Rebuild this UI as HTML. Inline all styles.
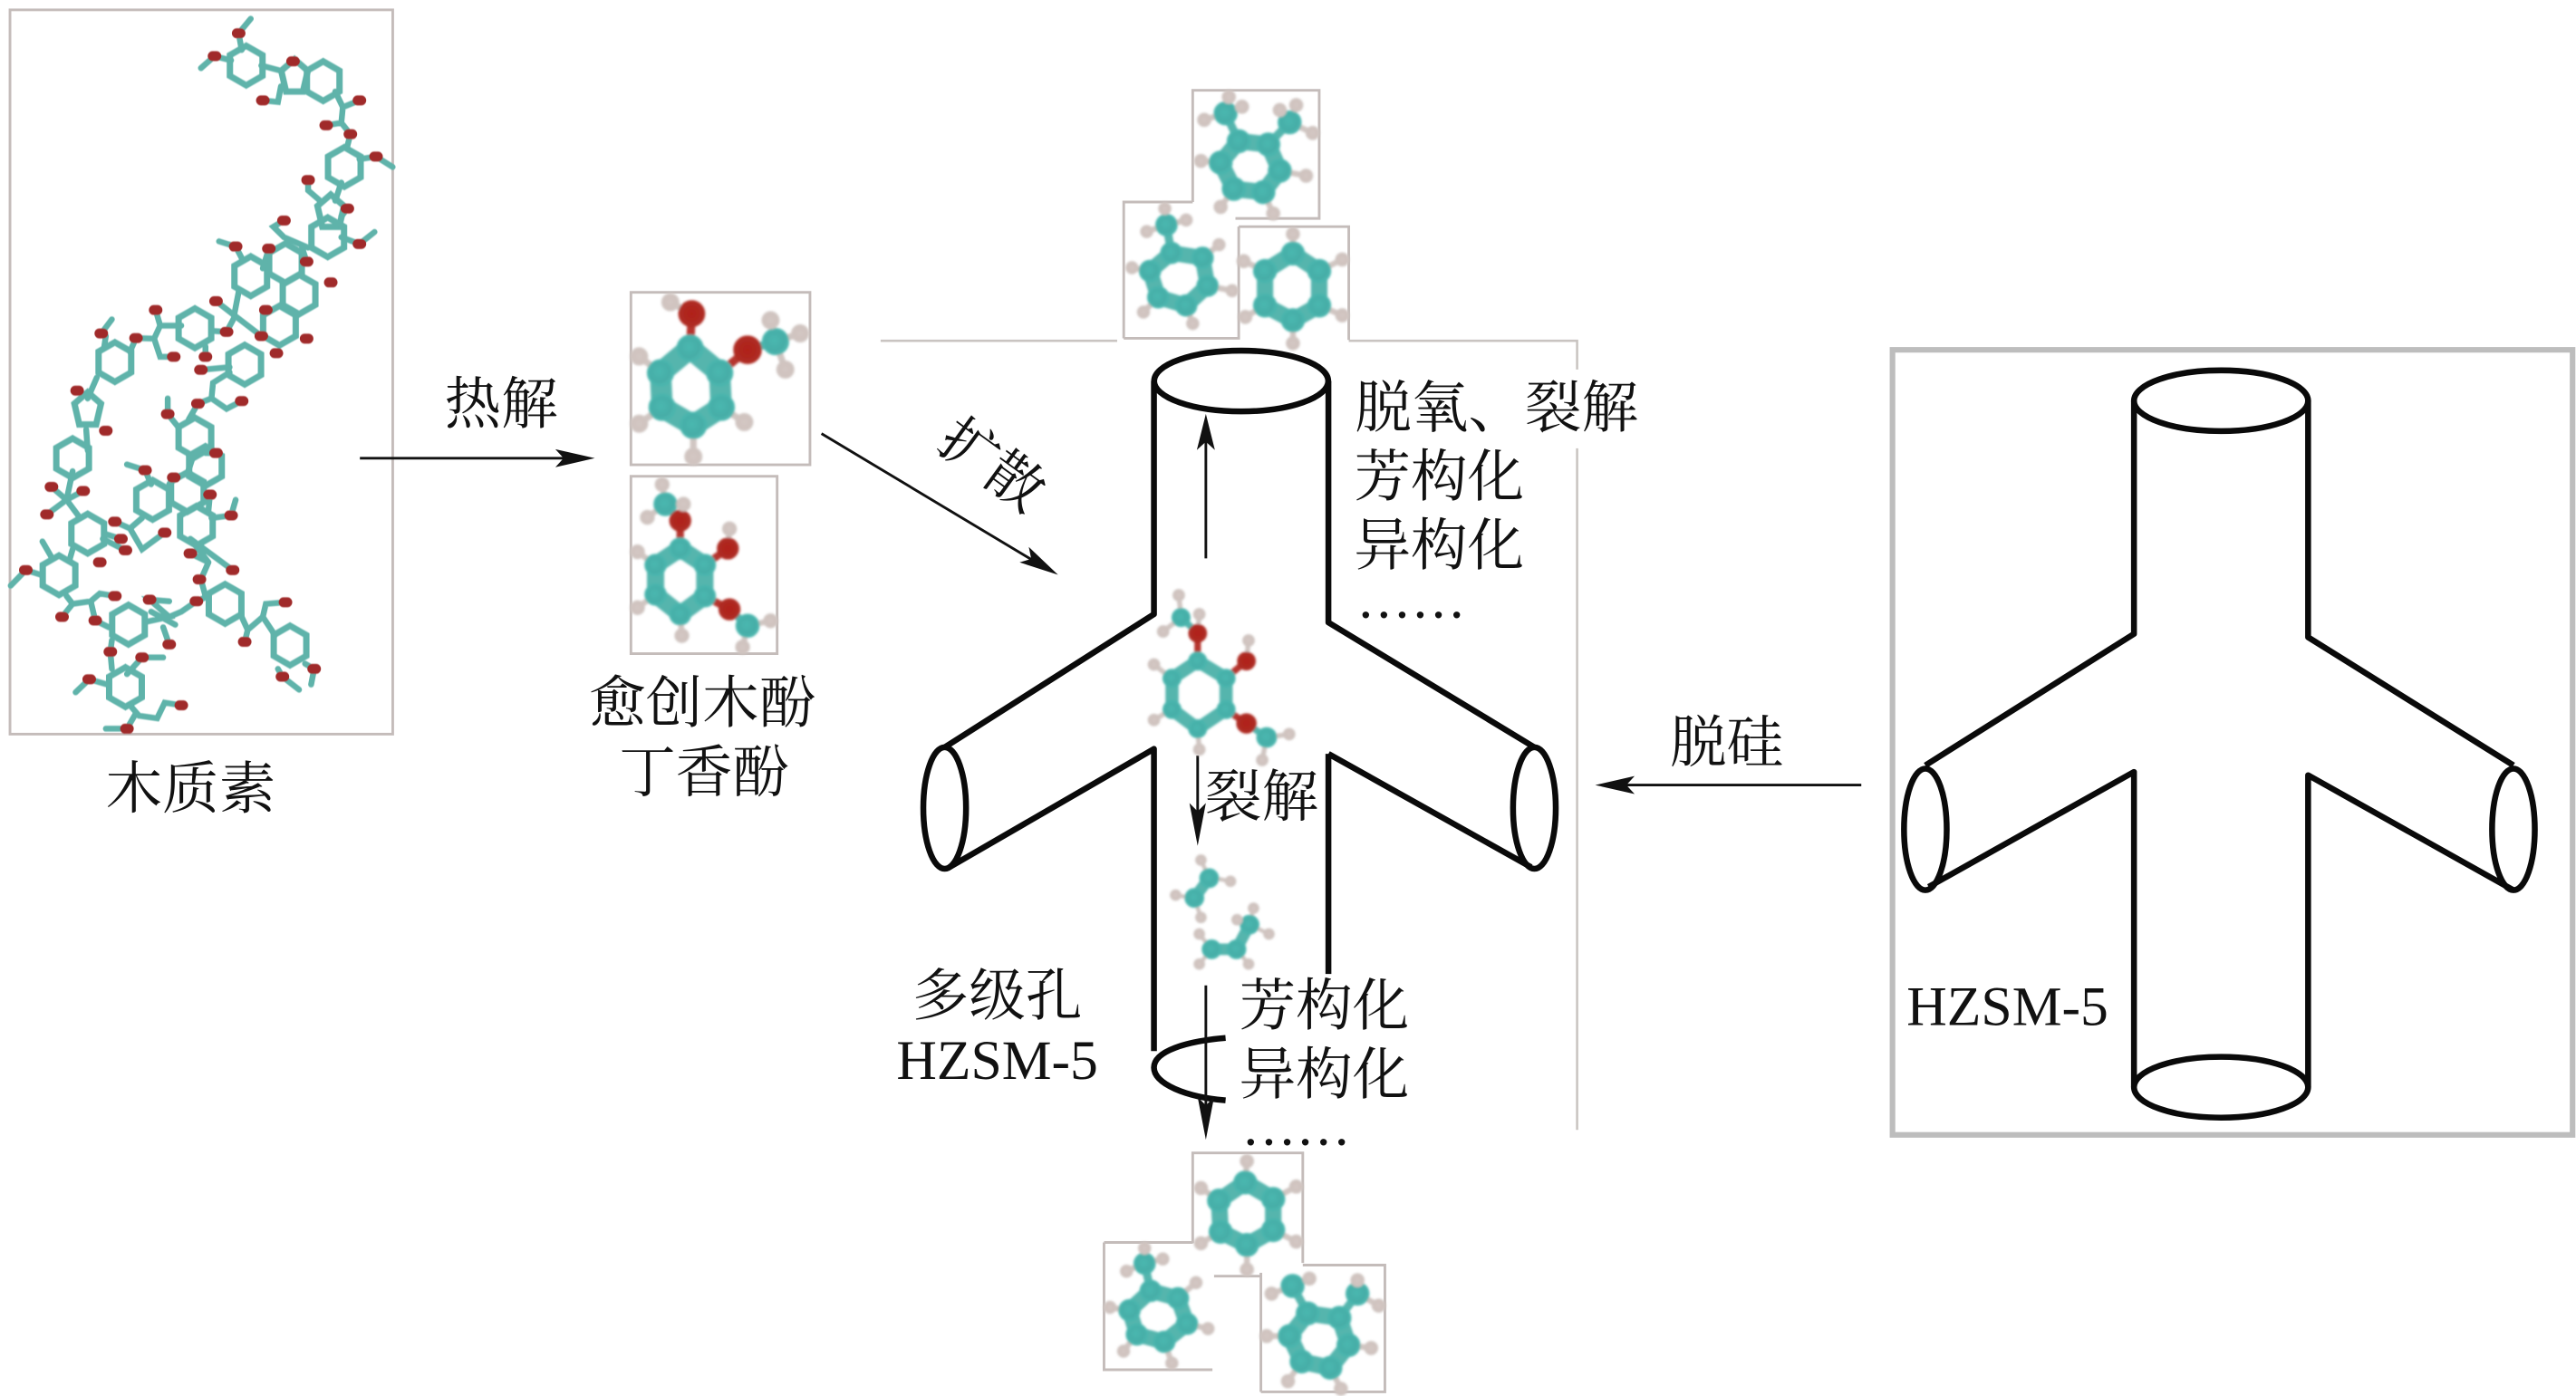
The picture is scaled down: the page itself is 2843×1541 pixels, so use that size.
<!DOCTYPE html>
<html><head><meta charset="utf-8">
<style>
html,body{margin:0;padding:0;background:#fff}
svg{display:block}
.t{font-family:"Liberation Serif","Noto Serif CJK SC",serif;font-size:34.5px;fill:#111;text-anchor:middle}
.w{fill:none;stroke:#0a0a0a;stroke-width:3.6;stroke-linejoin:round}
.a{fill:none;stroke:#111;stroke-width:1.6}
.g{fill:none;stroke:#c9c4c1;stroke-width:1.4}
.b{fill:none;stroke:#c4bcba;stroke-width:1.6}
.C{fill:url(#gc)}.H{fill:url(#gh)}.O{fill:url(#go)}
.C circle{stroke:#4ab5ad;stroke-width:1.6}
.H circle{stroke:#cfc4c0;stroke-width:1}
.O circle{stroke:#ae2a22;stroke-width:1.4}
.r{fill:none;stroke:#55b5ad}
.ro{fill:none;stroke:#b5352d}
</style></head>
<body>
<svg xmlns="http://www.w3.org/2000/svg" width="2843" height="1541" viewBox="0 0 1568 850">
<defs>
<radialGradient id="gc" cx=".45" cy=".45" r=".6"><stop offset="0" stop-color="#4ab8b0"/><stop offset=".75" stop-color="#45aca6"/><stop offset="1" stop-color="#6cc4bc"/></radialGradient>
<radialGradient id="gh" cx=".5" cy=".5" r=".55"><stop offset="0" stop-color="#d4c8c4"/><stop offset=".7" stop-color="#cfc2be"/><stop offset="1" stop-color="#e0d8d6"/></radialGradient>
<radialGradient id="go" cx=".5" cy=".5" r=".55"><stop offset="0" stop-color="#b02018"/><stop offset=".75" stop-color="#ae2a22"/><stop offset="1" stop-color="#c04a44"/></radialGradient>
<filter id="bl" x="-5%" y="-5%" width="110%" height="110%"><feGaussianBlur stdDeviation="0.7"/></filter>
<path id="h" d="M-54,-20L0,-38L54,-20L54,20L0,38L-54,20Z" fill="none" stroke="#5fb3aa" stroke-width="7" vector-effect="non-scaling-stroke"/>
<path id="p" d="M0,-32L44,-10L28,30L-28,30L-44,-10Z" fill="none" stroke="#5fb3aa" stroke-width="7" vector-effect="non-scaling-stroke"/>
</defs>
<rect width="1568" height="850" fill="#fff"/>

<!-- lignin -->
<rect x="6" y="6" width="233" height="441" class="b" fill="none"/>
<g transform="scale(.1838,.3167) translate(0,-4)" filter="url(#bl)">
<use href="#h" x="815" y="130"/><use href="#p" x="975" y="150"/><use href="#h" x="1070" y="160"/><use href="#h" x="1140" y="325"/><use href="#p" x="1095" y="410"/><use href="#h" x="1085" y="460"/><use href="#h" x="830" y="535"/><use href="#h" x="945" y="510"/><use href="#h" x="990" y="570"/><use href="#h" x="925" y="630"/><use href="#h" x="645" y="635"/><use href="#h" x="380" y="700"/><use href="#h" x="810" y="705"/><use href="#p" x="290" y="790"/><use href="#h" x="240" y="885"/><use href="#h" x="645" y="845"/><use href="#h" x="680" y="900"/><use href="#h" x="620" y="950"/><use href="#h" x="505" y="965"/><use href="#h" x="650" y="1015"/><use href="#h" x="290" y="1030"/><use href="#h" x="195" y="1110"/><use href="#h" x="745" y="1165"/><use href="#h" x="425" y="1205"/><use href="#h" x="960" y="1245"/><use href="#h" x="415" y="1325"/>
<path fill="none" stroke="#5fb3aa" stroke-width="6.5" stroke-linecap="round" vector-effect="non-scaling-stroke" d="M665,135L710,112L765,120M790,68L800,100M790,68L830,40M865,130L930,140M930,170L920,200L870,197M1110,180L1135,210L1190,197M1135,210L1130,240L1080,245M1130,240L1160,262L1150,285M1190,310L1245,305L1300,325M1130,355L1110,390M1060,390L1020,370L1020,350M1130,420L1150,405M1130,460L1190,473L1240,450M1020,480L940,460L905,440L940,428M1000,480L1015,507M890,482L870,520M800,500L780,478L725,468M790,565L775,610L715,583M775,610L865,650M750,642L775,615M700,640L750,642M600,630L530,630L515,600M530,630L510,655L450,654L430,680M510,655L530,690L575,690M335,645L370,618M350,650L345,670M320,730L290,770M680,670L680,690M665,715L760,710M760,720L705,740L700,770L655,780L625,810M700,770L750,790L800,775M555,770L555,800L590,825M680,875L715,875M640,880L620,915L575,922L560,935M480,908L420,897M480,908L500,935M695,955L690,985M700,1000L765,995L780,965M285,830L290,870M240,910L220,965L170,940M220,965L275,948M220,965L265,1000M220,965L155,993M340,1040L415,1062M345,1030L400,1040M380,1007L430,1020M430,1020L470,1060L545,1028M430,1020L470,1000M240,1060L230,1080M140,1045L170,1075M140,1110L85,1100L35,1130M220,1150L240,1165L205,1190M240,1165L300,1160L315,1197L360,1210M300,1160L330,1145L380,1150M630,1040L770,1100M630,1040L690,1085L630,1068M690,1085L665,1118L680,1150M480,1200L560,1190L495,1157L560,1160M560,1190L600,1180L650,1160L690,1150M500,1180L580,1205M540,1210L560,1243M800,1190L820,1215L810,1238M820,1215L870,1190L880,1165L945,1162M870,1190L910,1225M370,1235L365,1257L370,1290M420,1300L470,1268L540,1268M355,1320L295,1310L250,1335M430,1360L460,1380L520,1385L545,1355L600,1360M450,1375L420,1405L350,1405M1010,1280L1040,1290L1030,1320M935,1305L990,1330M920,1290L935,1305"/>
<path fill="none" stroke="#a02c2a" stroke-width="11" stroke-linecap="round" vector-effect="non-scaling-stroke" d="M784,68h12M704,112h12M964,122h12M864,197h12M1184,197h12M1074,245h12M1154,262h12M1239,305h12M1014,350h12M1144,405h12M1184,473h12M934,428h12M884,482h12M774,478h12M1009,507h12M1089,547h12M709,583h12M874,600h12M859,650h12M1009,655h12M509,600h12M744,642h12M909,683h12M444,654h12M329,645h12M569,690h12M674,690h12M659,715h12M794,775h12M649,780h12M549,800h12M249,755h12M344,832h12M474,908h12M569,922h12M709,875h12M689,955h12M759,995h12M164,940h12M269,948h12M149,993h12M374,1007h12M394,1040h12M409,1062h12M539,1028h12M624,1068h12M764,1100h12M654,1118h12M324,1085h12M79,1100h12M199,1190h12M309,1197h12M374,1150h12M489,1157h12M644,1160h12M554,1243h12M359,1257h12M464,1268h12M289,1310h12M939,1162h12M804,1238h12M1034,1290h12M929,1305h12M594,1360h12M414,1405h12"/>
</g>

<!-- guaiacol box -->
<rect x="384" y="178" width="109" height="105" class="b"/>
<rect x="384" y="290" width="89" height="108" class="b"/>
<g filter="url(#bl)">
<polygon class="r" stroke-width="13" points="420,212 402,227 403,248 422,259 439,248 438,227"/>
<path class="ro" stroke-width="5" d="M420,212L421,191M438,227L455,213"/>
<path stroke="#55b5ad" stroke-width="5" fill="none" d="M455,213L472,208"/>
<path stroke="#d0c6c2" stroke-width="4" fill="none" d="M472,208L469,195M472,208L487,203M472,208L478,225M421,191L408,184M402,227L389,217M403,248L389,258M422,259L422,278M439,248L453,257"/>
<g class="C"><circle cx="420" cy="212" r="7.5"/><circle cx="402" cy="227" r="7.5"/><circle cx="403" cy="248" r="7.5"/><circle cx="422" cy="259" r="7.5"/><circle cx="439" cy="248" r="7.5"/><circle cx="438" cy="227" r="7.5"/><circle cx="472" cy="208" r="7.5"/></g>
<g class="O"><circle cx="421" cy="191" r="7.5"/><circle cx="455" cy="213" r="8"/></g>
<g class="H"><circle cx="408" cy="184" r="5"/><circle cx="389" cy="217" r="5"/><circle cx="389" cy="258" r="5"/><circle cx="422" cy="278" r="5"/><circle cx="453" cy="257" r="5"/><circle cx="469" cy="195" r="5"/><circle cx="487" cy="203" r="5"/><circle cx="478" cy="225" r="5"/></g>

<polygon class="r" stroke-width="10.500" points="414,334 399,344 399,362 414,374 429,363 429,344"/>
<path class="ro" stroke-width="4.500" d="M414,334L414,317M429,344L443,334M429,363L444,371"/>
<path stroke="#55b5ad" stroke-width="4.500" fill="none" d="M414,317L405,307M444,371L455,381"/>
<path stroke="#d0c6c2" stroke-width="3.500" fill="none" d="M405,307L403,295M405,307L394,315M414,317L416,307M443,334L444,322M399,344L388,336M399,362L388,370M414,374L415,387M455,381L469,378M455,381L452,394"/>
<g class="C"><circle cx="414" cy="334" r="6"/><circle cx="399" cy="344" r="6"/><circle cx="399" cy="362" r="6"/><circle cx="414" cy="374" r="6"/><circle cx="429" cy="363" r="6"/><circle cx="429" cy="344" r="6"/><circle cx="405" cy="307" r="6.500"/><circle cx="455" cy="381" r="6.500"/></g>
<g class="O"><circle cx="414" cy="317" r="6"/><circle cx="443" cy="334" r="6"/><circle cx="444" cy="371" r="6"/></g>
<g class="H"><circle cx="403" cy="295" r="4"/><circle cx="394" cy="315" r="4"/><circle cx="416" cy="307" r="4"/><circle cx="444" cy="322" r="4"/><circle cx="388" cy="336" r="4"/><circle cx="388" cy="370" r="4"/><circle cx="415" cy="387" r="4"/><circle cx="469" cy="378" r="4"/><circle cx="452" cy="394" r="4"/></g>
</g>

<!-- gray bracket -->
<path class="g" d="M536,207.500H680M821,207.500H960V225M960,273V688"/>

<!-- top molecules -->
<path class="b" d="M726,123V55H803V133H752M684,206V123H726M684,206H754V138M754,138H821V207"/>
<g filter="url(#bl)">
<polygon class="r" stroke-width="10" points="754,86 772,88 779,104 769,117 751,115 743,99"/>
<path stroke="#55b5ad" stroke-width="5" fill="none" d="M754,86L746,69M772,88L785,74.500"/>
<path stroke="#d0c6c2" stroke-width="3.500" fill="none" d="M746,69L748,59M746,69L756,65M746,69L733,73M785,74.500L779,67M785,74.500L789,64M785,74.500L799,81M779,104L795,107M769,117L775,130M751,115L743,126M743,99L731,98"/>
<g class="C"><circle cx="754" cy="86" r="6.500"/><circle cx="772" cy="88" r="6.500"/><circle cx="779" cy="104" r="6.500"/><circle cx="769" cy="117" r="6.500"/><circle cx="751" cy="115" r="6.500"/><circle cx="743" cy="99" r="6.500"/><circle cx="746" cy="69" r="6.500"/><circle cx="785" cy="74.500" r="6.500"/></g>
<g class="H"><circle cx="748" cy="59" r="3.800"/><circle cx="756" cy="65" r="3.800"/><circle cx="733" cy="73" r="3.800"/><circle cx="779" cy="67" r="3.800"/><circle cx="789" cy="64" r="3.800"/><circle cx="799" cy="81" r="3.800"/><circle cx="795" cy="107" r="3.800"/><circle cx="775" cy="130" r="3.800"/><circle cx="743" cy="126" r="3.800"/><circle cx="731" cy="98" r="3.800"/></g>

<polygon class="r" stroke-width="9.500" points="713,154 732,157 735,174 722,186 705,181 700,165"/>
<path stroke="#55b5ad" stroke-width="5" fill="none" d="M713,154L710,137"/>
<path stroke="#d0c6c2" stroke-width="3.500" fill="none" d="M710,137L709,127M710,137L722,134M710,137L698,141M732,157L742,149M735,174L750,177M722,186L726,197M705,181L696,190M700,165L689,163"/>
<g class="C"><circle cx="713" cy="154" r="6"/><circle cx="732" cy="157" r="6"/><circle cx="735" cy="174" r="6"/><circle cx="722" cy="186" r="6"/><circle cx="705" cy="181" r="6"/><circle cx="700" cy="165" r="6"/><circle cx="710" cy="137" r="6"/></g>
<g class="H"><circle cx="709" cy="127" r="3.500"/><circle cx="722" cy="134" r="3.500"/><circle cx="698" cy="141" r="3.500"/><circle cx="742" cy="149" r="3.500"/><circle cx="750" cy="177" r="3.500"/><circle cx="726" cy="197" r="3.500"/><circle cx="696" cy="190" r="3.500"/><circle cx="689" cy="163" r="3.500"/></g>

<polygon class="r" stroke-width="10" points="787,154.400 803,165 803,186 787,195 770,186 770,165"/>
<path stroke="#d0c6c2" stroke-width="3.500" fill="none" d="M787,154L787,142M803,165L817,158M803,186L817,192M787,195L787,209M770,186L758,193M770,165L757,159"/>
<g class="C"><circle cx="787" cy="154.400" r="6.500"/><circle cx="803" cy="165" r="6.500"/><circle cx="803" cy="186" r="6.500"/><circle cx="787" cy="195" r="6.500"/><circle cx="770" cy="186" r="6.500"/><circle cx="770" cy="165" r="6.500"/></g>
<g class="H"><circle cx="787" cy="142.500" r="3.800"/><circle cx="817" cy="158" r="3.800"/><circle cx="817" cy="192" r="3.800"/><circle cx="787" cy="209" r="3.800"/><circle cx="758" cy="193" r="3.800"/><circle cx="757" cy="159" r="3.800"/></g>
</g>

<!-- central channel -->
<ellipse class="w" cx="755.500" cy="232" rx="53" ry="18.500"/>
<path class="w" d="M702.400,232V374L575,455M808.600,232V379L934,455M578,528L702.400,456V640"/>
<path class="w" d="M808.600,459V593M932,528L808.600,459"/>
<path class="w" d="M746,632C722,634 702.400,640 702.400,650C702.400,660 722,668 746,670"/>
<ellipse class="w" stroke-width="3.200" cx="575" cy="492" rx="13" ry="37"/>
<ellipse class="w" stroke-width="3.200" cx="934" cy="492" rx="13" ry="37"/>

<!-- arrows -->
<path class="a" d="M734,340V268"/><polygon fill="#111" points="734,252 728.500,274 734,269 739.500,274"/>
<path class="a" d="M729,460V496"/><polygon fill="#111" points="729,515 724,489 729,494 734,489"/>
<path class="a" d="M734,600V675"/><polygon fill="#111" points="734,694 729,668 734,673 739,668"/>
<path class="a" d="M219,279H345"/><polygon fill="#111" points="362,279 338,273.500 343,279 338,284.500"/>
<path class="a" d="M500,264L630,342"/><polygon fill="#111" points="644,350 620.600,342.400 627.700,340.300 626.200,333"/>
<path class="a" d="M1133,478H988"/><polygon fill="#111" points="971,478 995,472.500 990,478 995,483.500"/>

<!-- middle molecule -->
<g filter="url(#bl)">
<polygon class="r" stroke-width="8" points="729,402.500 713.400,413 713.400,432 729,443.700 746.300,432 746.300,413"/>
<path class="ro" stroke-width="4" d="M729,402L729,385.600M746,413L758.700,402.500M746,432L758.700,440.500"/>
<path stroke="#55b5ad" stroke-width="4" fill="none" d="M729,385.600L718.900,376M758.700,440.500L771,449"/>
<path stroke="#d0c6c2" stroke-width="3" fill="none" d="M719,376L717.500,362.400M719,376L708,384.500M729,385L730,374M758.700,402L760,390M713,413L702.400,404.600M713,432L702.400,438.400M729,444L730,456.400M771,449L784.700,447M771,449L768.300,462.800"/>
<g class="C"><circle cx="729" cy="402.500" r="5"/><circle cx="713.400" cy="413" r="5"/><circle cx="713.400" cy="432" r="5"/><circle cx="729" cy="443.700" r="5"/><circle cx="746.300" cy="432" r="5"/><circle cx="746.300" cy="413" r="5"/><circle cx="718.900" cy="376" r="5"/><circle cx="771" cy="449" r="5.500"/></g>
<g class="O"><circle cx="729" cy="385.600" r="5"/><circle cx="758.700" cy="402.500" r="5"/><circle cx="758.700" cy="440.500" r="5.500"/></g>
<g class="H"><circle cx="717.500" cy="362.400" r="3.300"/><circle cx="708" cy="384.500" r="3.300"/><circle cx="730" cy="374" r="3.300"/><circle cx="760" cy="390" r="3.300"/><circle cx="702.400" cy="404.600" r="3.300"/><circle cx="702.400" cy="438.400" r="3.300"/><circle cx="730" cy="456.400" r="3.300"/><circle cx="784.700" cy="447" r="3.300"/><circle cx="768.300" cy="462.800" r="3.300"/></g>

<!-- fragments -->
<path stroke="#55b5ad" stroke-width="7" fill="none" d="M736,534.700L727,546.700M737.500,578L752.600,578L760.600,563"/>
<path stroke="#d0c6c2" stroke-width="2.500" fill="none" d="M736,534L731,524M736,534L749,536.600M727,547L715.600,545M727,547L731,558.600M737.500,578L730,568.700M737.500,578L730,587M752.600,578L760,587M760.600,563L763,553M760.600,563L772.400,568.700M760.600,563L753,560"/>
<g class="C"><circle cx="736" cy="534.700" r="5.200"/><circle cx="727" cy="546.700" r="5.200"/><circle cx="737.500" cy="578" r="5.200"/><circle cx="752.600" cy="578" r="5.200"/><circle cx="760.600" cy="563" r="5.200"/></g>
<g class="H"><circle cx="731" cy="523.700" r="3"/><circle cx="749" cy="536.600" r="3"/><circle cx="715.600" cy="545" r="3"/><circle cx="731" cy="558.600" r="3"/><circle cx="730" cy="568.700" r="3"/><circle cx="730" cy="587" r="3"/><circle cx="760" cy="587" r="3"/><circle cx="763" cy="553" r="3"/><circle cx="772.400" cy="568.700" r="3"/><circle cx="753" cy="560" r="3"/></g>
</g>

<!-- bottom molecules -->
<path class="b" d="M726,757V702H793V769M739,777H767M672,756.500H726M672,756.500V834H738M767.500,847.500V775M793,770.300H843V847.500H767.500"/>
<g filter="url(#bl)">
<polygon class="r" stroke-width="10" points="758,720 775,730 775,749 759,758 743,750 742,731"/>
<path stroke="#d0c6c2" stroke-width="3.500" fill="none" d="M758,720L759,707M775,730L789,722.500M775,749L789,756M759,758L759,773M743,750L731,757M742,731L731,723.400"/>
<g class="C"><circle cx="758" cy="720" r="6.500"/><circle cx="775" cy="730" r="6.500"/><circle cx="775" cy="749" r="6.500"/><circle cx="759" cy="758" r="6.500"/><circle cx="743" cy="750" r="6.500"/><circle cx="742" cy="731" r="6.500"/></g>
<g class="H"><circle cx="759" cy="707" r="3.800"/><circle cx="789" cy="722.500" r="3.800"/><circle cx="789" cy="756" r="3.800"/><circle cx="759" cy="773" r="3.800"/><circle cx="731" cy="757" r="3.800"/><circle cx="731" cy="723.400" r="3.800"/></g>

<polygon class="r" stroke-width="9.500" points="700.400,786 717,790.500 722.500,806 708.700,817 692,812.500 687.500,797.800"/>
<path stroke="#55b5ad" stroke-width="5" fill="none" d="M700.400,786L696.700,769.400"/>
<path stroke="#d0c6c2" stroke-width="3.500" fill="none" d="M696.700,769L696.700,760M696.700,769L707.800,766.600M696.700,769L685.700,774M717,790L728,781M722.500,806L735.300,809M708.700,817L713.300,830M692,812L683.900,822.700M687.500,798L675.600,796"/>
<g class="C"><circle cx="700.400" cy="786" r="6"/><circle cx="717" cy="790.500" r="6"/><circle cx="722.500" cy="806" r="6"/><circle cx="708.700" cy="817" r="6"/><circle cx="692" cy="812.500" r="6"/><circle cx="687.500" cy="797.800" r="6"/><circle cx="696.700" cy="769.400" r="6"/></g>
<g class="H"><circle cx="696.700" cy="760" r="3.500"/><circle cx="707.800" cy="766.600" r="3.500"/><circle cx="685.700" cy="774" r="3.500"/><circle cx="728" cy="781" r="3.500"/><circle cx="735.300" cy="809" r="3.500"/><circle cx="713.300" cy="830" r="3.500"/><circle cx="683.900" cy="822.700" r="3.500"/><circle cx="675.600" cy="796" r="3.500"/></g>

<polygon class="r" stroke-width="10" points="796,799.700 815.300,802.400 820.800,819 809.800,832.800 792.300,829 785,813.500"/>
<path stroke="#55b5ad" stroke-width="5" fill="none" d="M796,799.700L786.800,783M815.300,802.400L826.300,787.700"/>
<path stroke="#d0c6c2" stroke-width="3.500" fill="none" d="M786.800,783L797,778.500M786.800,783L774,787.700M826.300,787.700L826.300,779.500M826.300,787.700L839.200,795M820.800,819L834.600,820.800M809.800,832.800L816.200,845.600M792.300,829L784,841M785,813.500L771,813.500"/>
<g class="C"><circle cx="796" cy="799.700" r="6.500"/><circle cx="815.300" cy="802.400" r="6.500"/><circle cx="820.800" cy="819" r="6.500"/><circle cx="809.800" cy="832.800" r="6.500"/><circle cx="792.300" cy="829" r="6.500"/><circle cx="785" cy="813.500" r="6.500"/><circle cx="786.800" cy="783" r="6.500"/><circle cx="826.300" cy="787.700" r="6.500"/></g>
<g class="H"><circle cx="797" cy="778.500" r="3.800"/><circle cx="774" cy="787.700" r="3.800"/><circle cx="826.300" cy="779.500" r="3.800"/><circle cx="839.200" cy="795" r="3.800"/><circle cx="834.600" cy="820.800" r="3.800"/><circle cx="816.200" cy="845.600" r="3.800"/><circle cx="784" cy="841" r="3.800"/><circle cx="771" cy="813.500" r="3.800"/></g>
</g>

<!-- right box -->
<rect x="1152" y="213" width="414" height="478" fill="none" stroke="#bdbdbd" stroke-width="3.400"/>
<ellipse class="w" cx="1352" cy="244" rx="53" ry="18.500"/>
<ellipse class="w" cx="1352" cy="662" rx="53" ry="18.500"/>
<path class="w" d="M1299,244V386L1172,466M1405,244V388L1530,466M1299,662V470L1174,540M1405,662V472L1530,542"/>
<ellipse class="w" stroke-width="3.200" cx="1172" cy="505" rx="13" ry="37"/>
<ellipse class="w" stroke-width="3.200" cx="1530" cy="505" rx="13" ry="37"/>

<!-- labels -->
<text class="t" x="116" y="492">木质素</text>
<text class="t" x="305" y="258">热解</text>
<text class="t" x="604" y="283" transform="rotate(36 604 283)" dy="12">扩散</text>
<text class="t" x="427.500" y="440">愈创木酚</text>
<text class="t" x="428.500" y="482">丁香酚</text>
<text class="t" x="911" y="260">脱氧、裂解</text>
<text class="t" x="876" y="302">芳构化</text>
<text class="t" x="876" y="344">异构化</text>
<text class="t" x="859" y="376" textLength="64" style="font-family:'Liberation Serif',serif">......</text>
<text class="t" x="768" y="497">裂解</text>
<text class="t" x="806" y="624">芳构化</text>
<text class="t" x="806" y="666">异构化</text>
<text class="t" x="789" y="697" textLength="64" style="font-family:'Liberation Serif',serif">......</text>
<text class="t" x="607" y="618">多级孔</text>
<text class="t" x="607" y="657" style="font-family:'Liberation Serif',serif;font-size:34px">HZSM-5</text>
<text class="t" x="1051" y="464">脱硅</text>
<text class="t" x="1222" y="624" style="font-family:'Liberation Serif',serif;font-size:34px">HZSM-5</text>
</svg>
</body></html>
